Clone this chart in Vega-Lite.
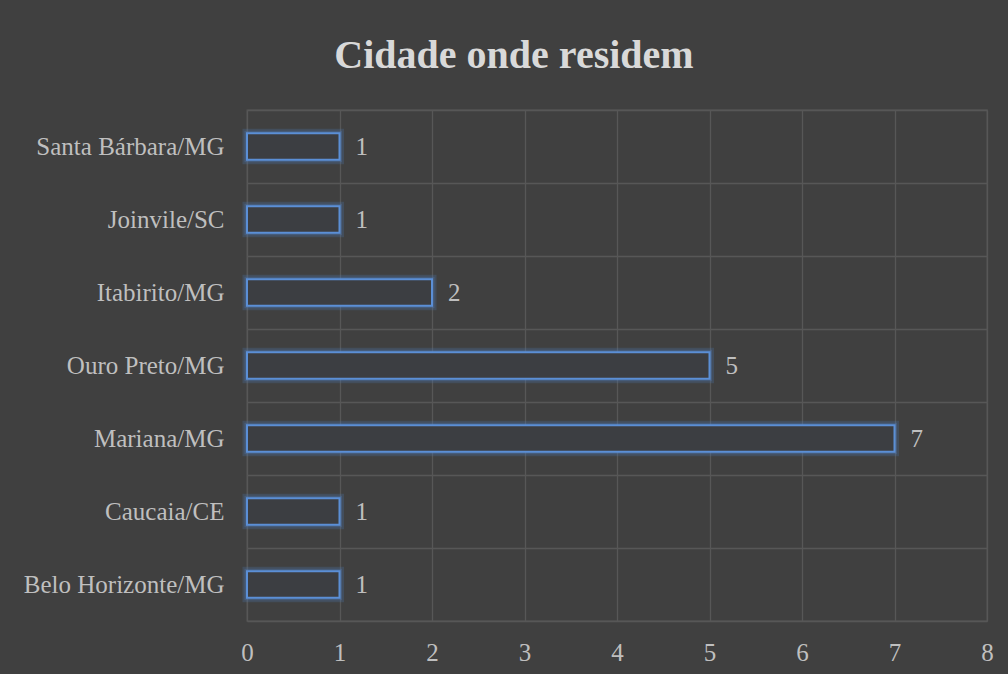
{
  "$schema": "https://vega.github.io/schema/vega-lite/v6.json",
  "width": 740,
  "height": 511,
  "autosize": {"type": "none"},
  "padding": {"left": 247, "top": 110, "right": 21, "bottom": 53},
  "background": "#404040",
  "config": {
    "view": {"stroke": "#575757", "strokeWidth": 1.3},
    "font": "Liberation Serif"
  },
  "title": {
    "text": "Cidade onde residem",
    "font": "Liberation Serif",
    "fontSize": 40,
    "fontWeight": "bold",
    "color": "#d9d9d9",
    "anchor": "middle",
    "dx": -103,
    "offset": 22
  },
  "data": {
    "values": [
      {"cidade": "Santa Bárbara/MG", "n": 1},
      {"cidade": "Joinvile/SC", "n": 1},
      {"cidade": "Itabirito/MG", "n": 2},
      {"cidade": "Ouro Preto/MG", "n": 5},
      {"cidade": "Mariana/MG", "n": 7},
      {"cidade": "Caucaia/CE", "n": 1},
      {"cidade": "Belo Horizonte/MG", "n": 1}
    ]
  },
  "encoding": {
    "y": {
      "field": "cidade",
      "type": "nominal",
      "sort": null,
      "title": null,
      "scale": {"paddingInner": 0, "paddingOuter": 0},
      "axis": {
        "tickBand": "extent",
        "grid": true,
        "gridColor": "#575757",
        "gridWidth": 1.3,
        "ticks": false,
        "domain": false,
        "labelColor": "#bfbfbf",
        "labelFont": "Liberation Serif",
        "labelFontSize": 25,
        "labelPadding": 23,
        "labelLimit": 400
      }
    },
    "x": {
      "field": "n",
      "type": "quantitative",
      "title": null,
      "scale": {"domain": [0, 8], "nice": false},
      "axis": {
        "values": [0, 1, 2, 3, 4, 5, 6, 7, 8],
        "grid": true,
        "gridColor": "#575757",
        "gridWidth": 1.3,
        "ticks": false,
        "domain": false,
        "labelColor": "#bfbfbf",
        "labelFont": "Liberation Serif",
        "labelFontSize": 25,
        "labelPadding": 19,
        "labelFlush": false
      }
    }
  },
  "layer": [
    {
      "mark": {"type": "bar", "height": {"band": 0.36}, "fill": null, "fillOpacity": 0, "stroke": "#4f7fc0", "strokeOpacity": 0.22, "strokeWidth": 9}
    },
    {
      "mark": {"type": "bar", "height": {"band": 0.36}, "fill": null, "fillOpacity": 0, "stroke": "#4f7fc0", "strokeOpacity": 0.3, "strokeWidth": 5}
    },
    {
      "mark": {"type": "bar", "height": {"band": 0.36}, "fill": "#3c3e42", "stroke": "#5b8fd6", "strokeWidth": 2}
    },
    {
      "mark": {"type": "text", "align": "left", "dx": 16, "fontSize": 25, "font": "Liberation Serif", "color": "#bfbfbf"},
      "encoding": {"text": {"field": "n", "type": "quantitative"}}
    }
  ]
}
